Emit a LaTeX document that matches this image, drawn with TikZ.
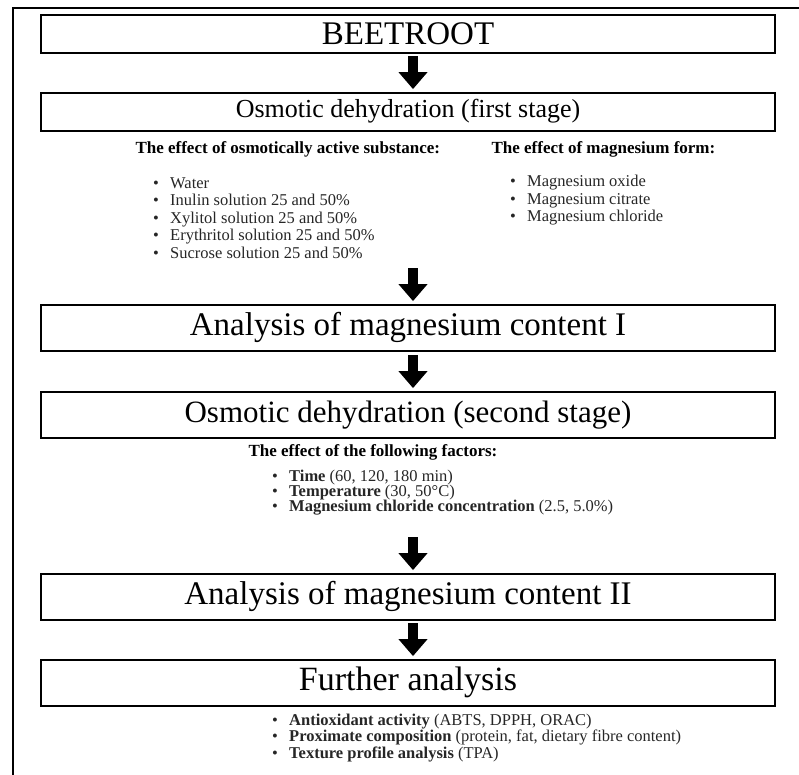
\documentclass[tikz,border=0pt]{standalone}
\usepackage{fontspec}
\setmainfont{Liberation Serif}
\usetikzlibrary{arrows.meta}
\newcommand\itm{\makebox[17pt][l]{•}}
\newcommand\fsz[1]{\fontsize{#1}{#1}\selectfont}
\begin{document}
\begin{tikzpicture}[x=1pt, y=-1pt,
    stage/.style={draw, line width=1.8pt, minimum width=734pt, minimum height=#1, inner sep=0pt},
    head/.style={anchor=west, font=\fsz{17}\bfseries},
    list/.style={anchor=west, align=left, inner sep=0pt, text=black!85, font=\fontsize{16.5}{#1}\selectfont},
    down/.style={line width=10pt, -{Triangle[width=28pt, length=17pt]}, shorten >=3pt}]
    \clip (0,0) rectangle (799,774);
    \draw[line width=1.5pt] (13,800) |- (820,8);
    \node[stage=38pt, font=\fsz{33}, text height=22pt] (beet) at (408,34) {BEETROOT};
    \node[stage=38pt, font=\fsz{26}, text height=17pt] (osmA) at (408,112) {Osmotic dehydration (first stage)};
    \node[head] (effA) at (132,149) {The effect of osmotically active substance:};
    \node[head] (effB) at (488,149) {The effect of magnesium form:};
    \node[list=17.5pt] (subs) at (153,218) {\itm Water\\ \itm Inulin solution 25 and 50\%\\ \itm Xylitol solution 25 and 50\%\\
        \itm Erythritol solution 25 and 50\%\\ \itm Sucrose solution 25 and 50\%};
    \node[list=17.5pt] (form) at (510,200.5) {\itm Magnesium oxide\\ \itm Magnesium citrate\\ \itm Magnesium chloride};
    \node[stage=46pt, font=\fsz{33}, text height=22pt] (mgA) at (408,328) {Analysis of magnesium content I};
    \node[stage=46pt, font=\fsz{31}, text height=21pt] (osmB) at (408,415) {Osmotic dehydration (second stage)};
    \node[head] (effC) at (245,452) {The effect of the following factors:};
    \node[list=15pt] (fact) at (272,493) {\itm\textbf{Time} (60, 120, 180 min)\\ \itm\textbf{Temperature} (30, 50°C)\\
        \itm\textbf{Magnesium chloride concentration} (2.5, 5.0\%)};
    \node[stage=46pt, font=\fsz{33}, text height=22pt] (mgB) at (408,597) {Analysis of magnesium content II};
    \node[stage=46pt, font=\fsz{34}, text height=22pt] (more) at (408,683) {Further analysis};
    \node[list=15pt] (anal) at (272,738) {\itm\textbf{Antioxidant activity} (ABTS, DPPH, ORAC)\\
        \itm\textbf{Proximate composition} (protein, fat, dietary fibre content)\\ \itm\textbf{Texture profile analysis} (TPA)};
    \coordinate (t1) at (413,56);
    \coordinate (t2) at (413,268);
    \coordinate (t3) at (413,355);
    \coordinate (t4) at (413,537);
    \coordinate (t5) at (413,623);
    \draw[down] (t1) -- (t1 |- osmA.north);
    \draw[down] (t2) -- (t2 |- mgA.north);
    \draw[down] (t3) -- (t3 |- osmB.north);
    \draw[down] (t4) -- (t4 |- mgB.north);
    \draw[down] (t5) -- (t5 |- more.north);
\end{tikzpicture}
\end{document}
